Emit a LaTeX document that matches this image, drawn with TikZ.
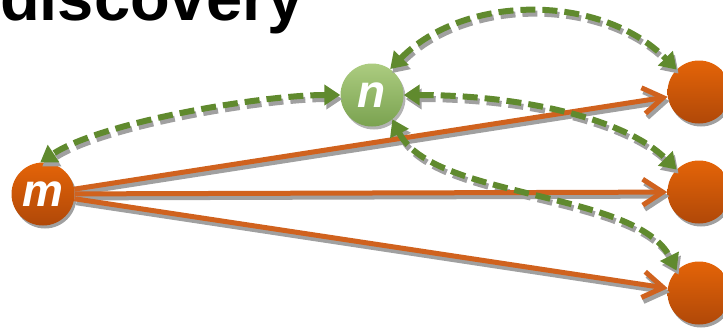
\documentclass[tikz,border=0pt]{standalone}
\usepackage{fontspec}
\setmainfont{Liberation Sans}
\usetikzlibrary{arrows.meta}
\definecolor{edgeorange}{RGB}{208,98,30}
\definecolor{nodeorangetop}{RGB}{228,100,8}
\definecolor{nodeorangebot}{RGB}{176,72,8}
\definecolor{dashgreen}{RGB}{96,138,46}
\definecolor{greentop}{RGB}{172,204,128}
\definecolor{greenbot}{RGB}{122,162,80}
\definecolor{shadowgray}{RGB}{160,160,160}
\tikzset{
  orangenode/.style={circle, minimum size=63pt, inner sep=0pt,
    top color=nodeorangetop, bottom color=nodeorangebot, draw=none,
    preaction={fill=shadowgray, transform canvas={shift={(2pt,-3pt)}}},
    font=\fontsize{46}{46}\selectfont\bfseries\itshape, text=white},
  greennode/.style={circle, minimum size=63pt, inner sep=0pt,
    top color=greentop, bottom color=greenbot, draw=none,
    preaction={fill=shadowgray!80, transform canvas={shift={(2pt,-3pt)}}},
    font=\fontsize{46}{46}\selectfont\bfseries\itshape, text=white},
  linkshadow/.style={draw=shadowgray, line width=5pt,
    -{Straight Barb[length=20pt,width=26pt]}},
  linkedge/.style={draw=edgeorange, line width=5pt,
    -{Straight Barb[length=20pt,width=26pt]}},
  dashshadow/.style={draw=shadowgray, line width=6pt, dash pattern=on 15pt off 7pt,
    {Triangle[length=16pt,width=20pt]}-{Triangle[length=16pt,width=20pt]}},
  dashedge/.style={draw=dashgreen, line width=6pt, dash pattern=on 15pt off 7pt,
    {Triangle[length=16pt,width=20pt]}-{Triangle[length=16pt,width=20pt]}},
}
\begin{document}
\begin{tikzpicture}[x=1pt,y=-1pt]
\useasboundingbox (0,0) rectangle (723,327);
\node[anchor=base west, inner sep=0pt, font=\fontsize{65}{65}\selectfont\bfseries] (title) at (0,20) {discovery};
\node[orangenode] (m) at (43,194) {m};
\node[greennode] (n) at (372,95) {n};
\node[orangenode] (r1) at (699,92) {};
\node[orangenode] (r2) at (699,192) {};
\node[orangenode] (r3) at (699,293) {};
\begin{scope}[transform canvas={shift={(2pt,-4pt)}}]
\draw[linkshadow] (m) -- (r1);
\draw[linkshadow] (m) -- (r2);
\draw[linkshadow] (m) -- (r3);
\draw[dashshadow] (n.180) .. controls +(-80,0) and +(60,-40) .. (m.95);
\draw[dashshadow] (n.55) .. controls +(75,-76) and +(-75,-76) .. (r1.135);
\draw[dashshadow] (n.0) .. controls +(120,0) and +(-50,-50) .. (r2.135);
\draw[dashshadow] (n.-50) .. controls +(40,80) and +(-40,-80) .. (r3.135);
\end{scope}
\draw[linkedge] (m) -- (r1);
\draw[linkedge] (m) -- (r2);
\draw[linkedge] (m) -- (r3);
\draw[dashedge] (n.180) .. controls +(-80,0) and +(60,-40) .. (m.95);
\draw[dashedge] (n.55) .. controls +(75,-76) and +(-75,-76) .. (r1.135);
\draw[dashedge] (n.0) .. controls +(120,0) and +(-50,-50) .. (r2.135);
\draw[dashedge] (n.-50) .. controls +(40,80) and +(-40,-80) .. (r3.135);
\end{tikzpicture}
\end{document}
